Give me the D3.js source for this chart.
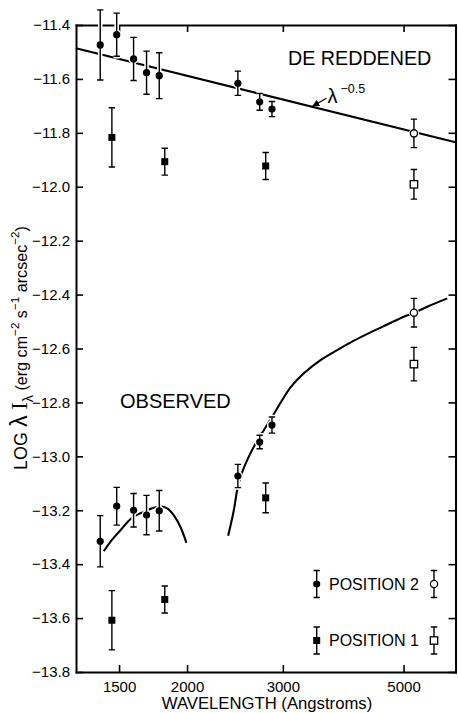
<!DOCTYPE html>
<html><head><meta charset="utf-8">
<script src="https://cdn.jsdelivr.net/npm/d3@7"></script>
<style>
html,body{margin:0;padding:0;background:#fff;}
svg{display:block;}
text{font-family:"Liberation Sans", Arial, Helvetica, sans-serif;fill:#000;}
</style></head><body>
<svg id="chart" width="458" height="713"></svg>
<script>
// ---------- axis ticks ----------
const xTickValues = [1500, 2000, 3000, 5000];
const yTickValues = [-11.4, -11.6, -11.8, -12.0, -12.2, -12.4, -12.6, -12.8, -13.0, -13.2, -13.4, -13.6, -13.8];

// ---------- DE REDDENED ----------
const deredP2Wave = [1385, 1485, 1595, 1685, 1778, 2480, 2720, 2865];
const deredP2Val  = [-11.474, -11.436, -11.526, -11.577, -11.588, -11.616, -11.685, -11.712];
const deredP2Err  = [0.13, 0.08, 0.08, 0.08, 0.085, 0.045, 0.031, 0.028];
const deredP2OpenWave = [5225];
const deredP2OpenVal  = [-11.802];
const deredP2OpenErr  = [0.053];
const deredP1Wave = [1455, 1820, 2790];
const deredP1Val  = [-11.817, -11.907, -11.923];
const deredP1Err  = [0.11, 0.05, 0.05];
const deredP1OpenWave = [5225];
const deredP1OpenVal  = [-11.991];
const deredP1OpenErr  = [0.055];
const deredLineWave = [1250, 6230];
const deredLineVal  = [-11.486, -11.835];

// ---------- OBSERVED ----------
const obsP2Wave = [1385, 1485, 1595, 1685, 1778, 2480, 2720, 2865];
const obsP2Val  = [-13.315, -13.185, -13.200, -13.218, -13.202, -13.073, -12.947, -12.884];
const obsP2Err  = [0.095, 0.07, 0.062, 0.073, 0.075, 0.043, 0.025, 0.03];
const obsP2OpenWave = [5225];
const obsP2OpenVal  = [-12.467];
const obsP2OpenErr  = [0.053];
const obsP1Wave = [1455, 1820, 2790];
const obsP1Val  = [-13.608, -13.531, -13.154];
const obsP1Err  = [0.11, 0.05, 0.055];
const obsP1OpenWave = [5225];
const obsP1OpenVal  = [-12.658];
const obsP1OpenErr  = [0.062];
const obsCurveUVWave = [1406, 1446, 1509, 1582, 1665, 1726, 1787, 1839, 1890, 1945, 1995];
const obsCurveUVVal  = [-13.352, -13.317, -13.274, -13.229, -13.206, -13.193, -13.185, -13.193, -13.218, -13.262, -13.321];
const obsCurveOptWave = [2380, 2438, 2474, 2526, 2673, 2768, 2868, 2992, 3099, 3279, 3519, 3776, 4052, 4348, 4668, 5005, 5224, 5528, 6017];
const obsCurveOptVal  = [-13.295, -13.200, -13.123, -13.058, -12.952, -12.903, -12.853, -12.791, -12.744, -12.692, -12.643, -12.606, -12.571, -12.540, -12.511, -12.482, -12.468, -12.445, -12.414];

const legendLabels = ["POSITION 2", "POSITION 1"];

// ---------- build ----------
const svg = d3.select("#chart");
svg.append("rect").attr("width", 458).attr("height", 713).attr("fill", "#fff");

const L = 76, R = 455.5, T = 25, B = 672;
const x = d3.scaleLog().domain([1250, 6230]).range([L, R]);
const y = d3.scaleLinear().domain([-13.8, -11.4]).range([B, T]);

const pts = (w, v, e) => d3.zip(w, v, e || w.map(() => 0)).map(([w, v, e]) => ({w, v, e}));

// axes
function styleAxis(g) {
  g.attr("font-family", null).attr("font-size", null);
  g.select(".domain").attr("stroke", "#000").attr("stroke-width", 2).attr("stroke-linecap", "square");
  g.selectAll(".tick line").attr("stroke", "#000").attr("stroke-width", 1.6);
  g.selectAll(".tick text").style("font-size", "15px").attr("fill", "#000");
}
svg.append("g").attr("transform", `translate(0,${B})`)
  .call(d3.axisBottom(x).tickValues(xTickValues).tickFormat(d => String(d)).tickSizeInner(-7).tickSizeOuter(0).tickPadding(9.4))
  .call(styleAxis);
svg.append("g").attr("transform", `translate(0,${T})`)
  .call(d3.axisTop(x).tickValues(xTickValues).tickFormat("").tickSizeInner(-7).tickSizeOuter(0))
  .call(styleAxis);
svg.append("g").attr("transform", `translate(${L},0)`)
  .call(d3.axisLeft(y).tickValues(yTickValues).tickFormat(d3.format(".1f")).tickSizeInner(-7).tickSizeOuter(0).tickPadding(6))
  .call(styleAxis);
svg.append("g").attr("transform", `translate(${R},0)`)
  .call(d3.axisRight(y).tickValues(yTickValues).tickFormat("").tickSizeInner(-7).tickSizeOuter(0))
  .call(styleAxis);

// curves
const line = d3.line().x(d => x(d.w)).y(d => y(d.v)).curve(d3.curveCatmullRom.alpha(0.5));
const curves = svg.append("g").attr("fill", "none").attr("stroke", "#000").attr("stroke-width", 2.1);
curves.append("path").attr("d", d3.line().x(d => x(d.w)).y(d => y(d.v))(pts(deredLineWave, deredLineVal)));
curves.append("path").attr("d", line(pts(obsCurveUVWave, obsCurveUVVal)));
curves.append("path").attr("d", line(pts(obsCurveOptWave, obsCurveOptVal)));

// markers
const CAP = 3.2;
function errPath(cx, y0, y1) {
  return `M${cx},${y0}V${y1}M${cx - CAP},${y0}H${cx + CAP}M${cx - CAP},${y1}H${cx + CAP}`;
}
function markerShape(g, type, cx, cy, halo) {
  const sw = halo ? 3 : (type.startsWith("open") ? 1.3 : 0);
  const stroke = halo ? "#fff" : "#000";
  const fill = halo ? "#fff" : (type.startsWith("open") ? "#fff" : "#000");
  if (type.endsWith("circle")) {
    g.append("circle").attr("cx", cx).attr("cy", cy).attr("r", 3.6)
      .attr("fill", fill).attr("stroke", halo || type.startsWith("open") ? stroke : "none").attr("stroke-width", sw);
  } else {
    const s = type.startsWith("open") ? 7.4 : 7;
    g.append("rect").attr("x", cx - s / 2).attr("y", cy - s / 2).attr("width", s).attr("height", s)
      .attr("fill", fill).attr("stroke", halo || type.startsWith("open") ? stroke : "none").attr("stroke-width", sw);
  }
}
function drawPoint(g, type, cx, cy, yTop, yBot, halo) {
  g.append("path").attr("d", errPath(cx, yTop, yBot)).attr("fill", "none")
    .attr("stroke", halo ? "#fff" : "#000").attr("stroke-width", halo ? 4.5 : 1.4);
  markerShape(g, type, cx, cy, halo);
}
const groups = [
  [pts(deredP2Wave, deredP2Val, deredP2Err), "circle"],
  [pts(deredP2OpenWave, deredP2OpenVal, deredP2OpenErr), "opencircle"],
  [pts(deredP1Wave, deredP1Val, deredP1Err), "square"],
  [pts(deredP1OpenWave, deredP1OpenVal, deredP1OpenErr), "opensquare"],
  [pts(obsP2Wave, obsP2Val, obsP2Err), "circle"],
  [pts(obsP2OpenWave, obsP2OpenVal, obsP2OpenErr), "opencircle"],
  [pts(obsP1Wave, obsP1Val, obsP1Err), "square"],
  [pts(obsP1OpenWave, obsP1OpenVal, obsP1OpenErr), "opensquare"]
];
const haloG = svg.append("g");
const markG = svg.append("g");
groups.forEach(([data, type]) => {
  data.forEach(d => {
    drawPoint(haloG, type, x(d.w), y(d.v), y(d.v + d.e), y(d.v - d.e), true);
    drawPoint(markG, type, x(d.w), y(d.v), y(d.v + d.e), y(d.v - d.e), false);
  });
});

// labels
svg.append("text").attr("x", 288).attr("y", 65).style("font-size", "19.7px").text("DE REDDENED");
svg.append("text").attr("x", 120).attr("y", 407.5).style("font-size", "20px").text("OBSERVED");

// lambda^-0.5 annotation
const lineAt = d3.scaleLog().domain(deredLineWave).range(deredLineVal);
const annoWave = 3400;
const tx = x(annoWave), ty = y(lineAt(annoWave));
svg.append("defs").append("marker").attr("id", "ah").attr("viewBox", "0 0 10 10")
  .attr("refX", 9).attr("refY", 5).attr("markerWidth", 7).attr("markerHeight", 7)
  .attr("markerUnits", "userSpaceOnUse").attr("orient", "auto")
  .append("path").attr("d", "M0,0L10,5L0,10z").attr("fill", "#000");
svg.append("line").attr("x1", tx + 14).attr("y1", ty - 8.5).attr("x2", tx + 0.5).attr("y2", ty - 0.8)
  .attr("stroke", "#000").attr("stroke-width", 1.3).attr("marker-end", "url(#ah)");
svg.append("text").attr("x", tx + 15).attr("y", ty - 3.5).style("font-size", "20px").text("λ");
svg.append("text").attr("x", tx + 28).attr("y", ty - 14).style("font-size", "12.5px").text("−0.5");

// x-axis title
svg.append("text").attr("x", 267).attr("y", 708.5).attr("text-anchor", "middle").style("font-size", "16.7px")
  .text("WAVELENGTH (Angstroms)");

// y-axis title
const yt = svg.append("text").attr("transform", "translate(26.5,348) rotate(-90)").attr("text-anchor", "middle");
function buildYTitle(s) {
  yt.selectAll("*").remove();
  yt.append("tspan").style("font-size", s + "px").text("LOG ");
  yt.append("tspan").style("font-size", (s * 1.3) + "px").text("λ");
  yt.append("tspan").style("font-size", (s * 1.25) + "px").style("font-family", "'Liberation Serif', serif").text(" I");
  yt.append("tspan").style("font-size", (s * 0.8) + "px").attr("dy", s * 0.35).text("λ");
  yt.append("tspan").style("font-size", (s * 0.9) + "px").attr("dy", -s * 0.35).text(" (erg cm");
  yt.append("tspan").style("font-size", (s * 0.65) + "px").attr("dy", -s * 0.4).text("−2");
  yt.append("tspan").style("font-size", (s * 0.9) + "px").attr("dy", s * 0.4).text(" s");
  yt.append("tspan").style("font-size", (s * 0.65) + "px").attr("dy", -s * 0.4).text("−1");
  yt.append("tspan").style("font-size", (s * 0.9) + "px").attr("dy", s * 0.4).text(" arcsec");
  yt.append("tspan").style("font-size", (s * 0.65) + "px").attr("dy", -s * 0.4).text("−2");
  yt.append("tspan").style("font-size", (s * 0.9) + "px").attr("dy", s * 0.4).text(")");
}
buildYTitle(16);
const len = yt.node().getComputedTextLength();
buildYTitle(16 * 244 / len);

// legend
const legendTypes = [["circle", "opencircle"], ["square", "opensquare"]];
const legendRows = [584, 640.5];
const lg = svg.append("g");
legendLabels.forEach((lab, i) => {
  const cy = legendRows[i];
  drawPoint(lg, legendTypes[i][0], 316.7, cy, cy - 13.5, cy + 13.5, false);
  drawPoint(lg, legendTypes[i][1], 434, cy, cy - 13.5, cy + 13.5, false);
  lg.append("text").attr("x", 329).attr("y", cy + 5.7).style("font-size", "16px").text(lab);
});
</script>
</body></html>
